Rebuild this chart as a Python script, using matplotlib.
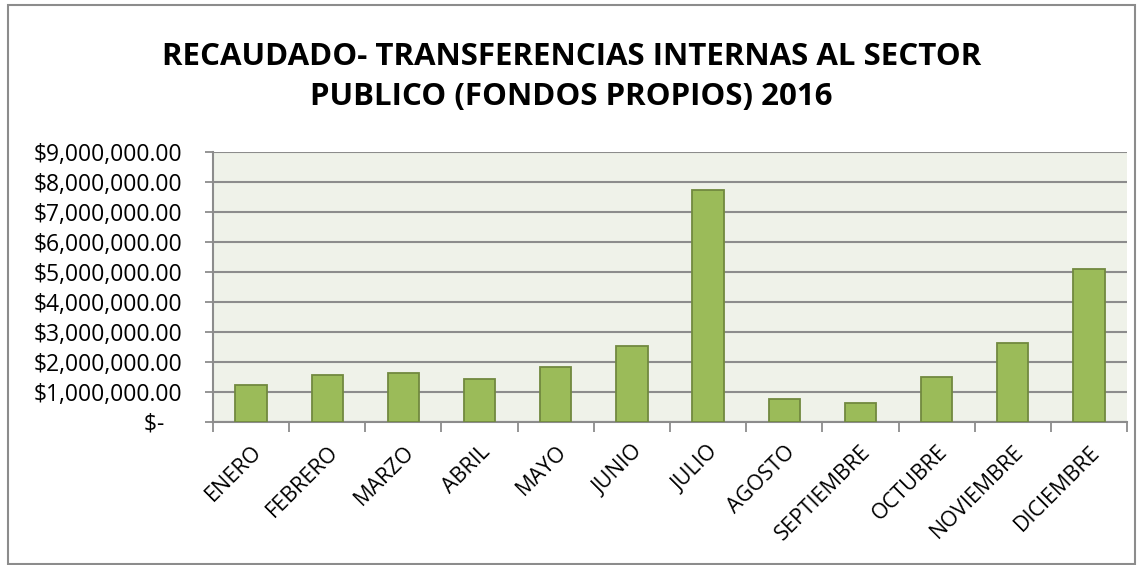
import numpy as np
import matplotlib.pyplot as plt
from matplotlib.patches import Rectangle
from matplotlib.ticker import FuncFormatter

meses = ["ENERO", "FEBRERO", "MARZO", "ABRIL", "MAYO", "JUNIO", "JULIO",
         "AGOSTO", "SEPTIEMBRE", "OCTUBRE", "NOVIEMBRE", "DICIEMBRE"]
recaudado = [1240000, 1580000, 1630000, 1430000, 1820000, 2550000, 7750000,
             780000, 640000, 1490000, 2640000, 5100000]

plt.rcParams['font.family'] = ['Open Sans', 'DejaVu Sans']

fig = plt.figure(figsize=(11.43, 5.65), dpi=100)
ax = fig.add_axes([213 / 1143, 1 - 422 / 565, (1127 - 213) / 1143, (422 - 152) / 565])

x = np.arange(len(meses))
ax.bar(x, recaudado, width=0.41, color="#9BBB59", edgecolor="#71893F", linewidth=1.3, zorder=3)

ax.set_facecolor("#EFF2E9")
ax.set_xlim(-0.5, len(meses) - 0.5)
ax.set_ylim(0, 9000000)
ax.set_yticks(np.arange(0, 9000001, 1000000))


def fmt(v, pos):
    if v == 0:
        return "$-   "
    return "${:,.2f}".format(v)


ax.yaxis.set_major_formatter(FuncFormatter(fmt))
ax.grid(axis="y", color="#8C8C8C", linewidth=1.5, zorder=1)

ax.set_xticks(x)
ax.set_xticklabels(meses, rotation=45, ha="right", rotation_mode="anchor", fontsize=15.5)
ax.set_xticks(np.arange(-0.5, len(meses), 1), minor=True)
ax.tick_params(axis="x", which="major", length=0, pad=14)
ax.tick_params(axis="x", which="minor", length=7, color="#8C8C8C", width=1.3)
ax.tick_params(axis="y", length=6, color="#8C8C8C", width=1.3, labelsize=16.5, pad=16)

for side in ["top", "right"]:
    ax.spines[side].set_visible(False)
for side in ["left", "bottom"]:
    ax.spines[side].set_color("#8C8C8C")
    ax.spines[side].set_linewidth(1.5)

fig.text(0.5, 0.864, "RECAUDADO- TRANSFERENCIAS INTERNAS AL SECTOR\nPUBLICO (FONDOS PROPIOS) 2016",
         ha="center", va="center", fontsize=22.5, fontweight="bold", linespacing=1.45)

fig.patches.append(Rectangle((8 / 1143, 0.002), 1 - 16 / 1143, 0.99, transform=fig.transFigure,
                             fill=False, edgecolor="#8C8C8C", linewidth=1.5))

fig.savefig("out.png", dpi=100)
